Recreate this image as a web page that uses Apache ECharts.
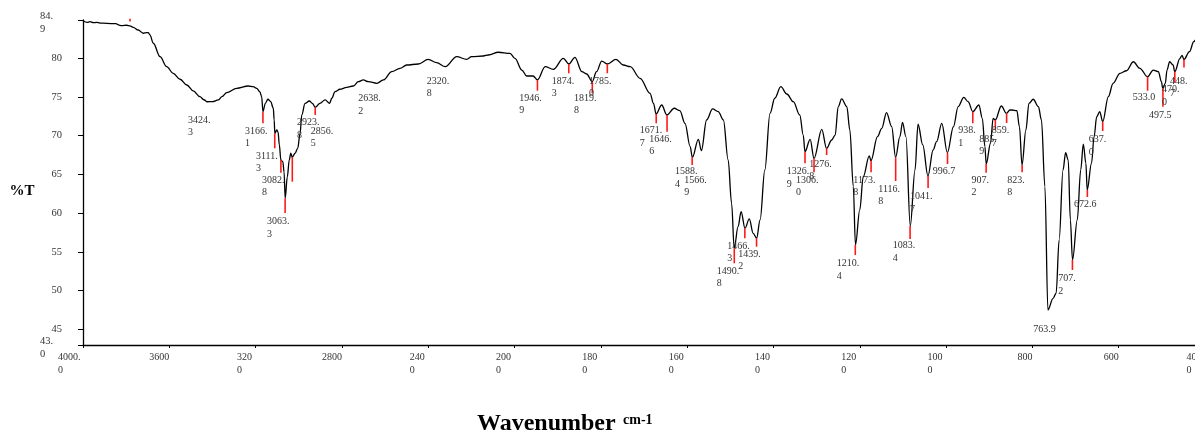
<!DOCTYPE html>
<html><head><meta charset="utf-8">
<script src="https://cdn.jsdelivr.net/npm/echarts@6/dist/echarts.min.js"></script>
<style>html,body{margin:0;padding:0;background:#fff}#c{width:1195px;height:435px}</style>
</head><body><div id="c"></div>
<script>
// ---- spectrum (wavenumber cm-1, %T) ----
const wavenumbers = [4000,3980,3968,3952,3937,3921,3890,3847,3836,3821,3797,3782,3767,3744,3721,3705,3697,3690,3674,3643,3612,3582,3550,3519,3489,3458,3440,3424,3400,3373,3356,3334,3288,3234,3211,3195,3180,3172,3166,3155,3143,3130,3118,3114,3111,3102,3096,3090,3083,3074,3068,3063,3053,3044,3037,3030,3017,3005,2994,2986,2971,2951,2937,2924,2902,2878,2857,2847,2832,2809,2778,2747,2724,2701,2678,2638,2608,2569,2531,2500,2446,2400,2361,2321,2268,2222,2199,2145,2121,2075,2021,1999,1983,1972,1957,1947,1929,1910,1887,1874,1860,1844,1833,1820,1810,1798,1785,1765,1748,1732,1709,1686,1678,1672,1659,1647,1630,1617,1605,1593,1588,1574,1567,1555,1541,1528,1516,1505,1497,1491,1482,1475,1466,1456,1447,1439,1431,1420,1408,1397,1383,1369,1354,1339,1331,1327,1315,1306,1288,1277,1265,1257,1250,1242,1230,1223,1215,1210,1200,1192,1178,1174,1159,1149,1138,1126,1117,1107,1101,1093,1083,1072,1065,1054,1042,1030,1022,1010,997,983,972,959,949,938,924,916,910,907,897,891,886,872,860,852,848,836,830,824,815,808,798,786,779,771,764,752,745,738,729,723,717,712,707,696,688,682,676,673,663,657,651,644,637,624,613,597,582,566,551,533,520,508,501,498,492,488,482,474,470,458,453,449,436,426,422,400];
const transmittance = [84.81,84.60,84.68,84.55,84.60,84.51,84.47,84.42,84.26,84.17,84.22,84.13,83.96,83.61,83.19,83.26,83.26,82.97,81.90,80.17,78.88,78.03,77.26,76.52,75.75,75.01,74.62,74.36,74.38,74.59,75.01,75.53,76.09,76.39,76.30,76.09,75.62,75.01,73.08,74.16,74.68,74.37,73.52,72.01,70.29,70.72,70.46,68.79,66.85,66.63,65.30,61.91,64.70,66.85,67.72,67.20,67.72,68.36,70.29,72.65,74.16,74.46,74.16,73.65,74.16,74.59,74.16,74.81,75.66,75.97,76.22,76.39,76.95,77.17,76.95,76.74,77.17,78.24,78.67,79.10,79.23,79.83,79.40,78.88,80.17,79.83,80.17,80.26,80.39,80.74,80.61,79.96,78.45,77.68,77.68,77.17,78.88,78.54,79.96,79.23,80.09,78.24,77.94,76.95,78.24,79.61,79.23,79.83,79.10,78.88,77.38,75.45,74.16,72.78,73.94,72.65,73.52,73.21,71.58,68.57,67.20,69.52,68.05,72.01,73.43,73.08,72.01,66.85,61.27,55.47,58.25,60.19,58.05,59.25,57.40,56.76,59.12,65.56,72.87,74.81,76.30,75.36,74.37,72.65,70.07,67.92,69.52,67.07,70.81,68.36,69.43,70.07,73.72,74.72,73.72,70.72,63.41,55.89,60.41,64.70,67.37,66.76,69.86,70.94,72.95,71.14,67.20,69.86,71.71,69.86,58.34,65.56,71.46,68.79,64.79,68.14,69.21,71.58,67.79,71.14,73.72,74.93,74.37,73.08,73.94,72.23,68.57,66.34,69.01,72.23,72.01,73.81,72.87,73.30,73.30,73.21,71.14,66.21,70.72,74.16,74.68,73.72,72.01,63.41,47.51,49.02,49.67,56.54,65.56,67.79,66.85,59.12,53.96,59.12,65.56,68.91,66.43,62.98,66.43,69.86,72.43,73.08,71.79,75.01,76.74,78.03,78.36,79.52,78.67,77.59,78.45,78.24,76.95,76.10,76.74,78.45,79.52,79.10,78.24,79.96,80.35,79.80,80.81,82.10,82.32,82.70];

// ---- axis ticks ----
const xTickValues = [4000,3600,3200,2800,2400,2000,1800,1600,1400,1200,1000,800,600,400];
const xTickLabels = ["4000.\n0","3600","320\n0","2800","240\n0","200\n0","180\n0","160\n0","140\n0","120\n0","100\n0","800","600","40\n0"];
const yTickValues = [43,45,50,55,60,65,70,75,80,84.9];
const yTickLabels = ["43.\n0","45","50","55","60","65","70","75","80","84.\n9"];
const yEndValues = [43,84.9];   // range ends, labelled on their own

// ---- picked peaks ----
const peakWavenumbers = [3782,3424.3,3166.1,3111.3,3082.8,3063.3,3030,2923.8,2856.5,2638.2,2320.8,1946.9,1874.3,1819.8,1785.0,1671.7,1646.6,1588.4,1566.9,1490.8,1466.3,1439.2,1326.9,1306.0,1276.8,1210.4,1173.8,1116.8,1083.4,1041.7,996.7,938.1,907.2,885.9,859.7,823.8,763.9,707.2,672.6,637.0,533.0,497.5,470.0,448.7];
const peakTransmittance = [85.05,74.36,73.08,70.29,66.85,61.91,67.20,73.65,74.16,76.74,78.88,77.17,79.23,76.95,79.23,72.78,72.65,67.20,68.05,55.47,58.05,56.76,67.92,67.07,68.36,55.89,66.76,67.20,58.34,64.79,67.79,73.08,66.34,72.01,72.87,66.21,47.51,53.96,62.98,71.79,77.59,76.10,78.24,79.80];
const peakLabels = ["","3424.\n3","3166.\n1","3111.\n3","3082.\n8","3063.\n3","","2923.\n8","2856.\n5","2638.\n2","2320.\n8","1946.\n9","1874.\n3","1819.\n8","1785.\n0","1671.\n7","1646.\n6","1588.\n4","1566.\n9","1490.\n8","1466.\n3","1439.\n2","1326.\n9","1306.\n0","1276.\n8","1210.\n4","1173.\n8","1116.\n8","1083.\n4","1041.\n7","996.7","938.\n1","907.\n2","885.\n9","859.\n7","823.\n8","763.9","707.\n2","672.6","637.\n0","533.0","497.5","470.\n0","448.\n7"];

// ---- marker layout (styling only): [red line length px, label dx px, label dy px] ----
const peakLayout = [[2.6,0,0],[0,-19.2,18.3],[11.6,-17.9,7.7],[15,-18.8,7.7],[12.7,-18.9,7.3],[14.7,-18.1,8.7],[24.4,0,0],[7.7,-18.2,7.7],[0,-19,27.7],[0,-18.5,15],[0,-18.6,14.3],[10.7,-18.2,7.3],[9.3,-17.1,7.7],[11.6,-18.3,4.7],[9.3,-18.3,7.7],[9.3,-16.5,7.4],[16.7,-17.8,7.3],[7.7,-17.2,6.7],[0,-17.2,29.3],[15,-17.6,7.7],[10,-17.6,7.7],[8.4,-18.3,7.3],[11.6,-18.3,8.4],[14,-18,7.7],[6.7,-17.3,9],[10,-18.6,8.3],[11.6,-17.8,7.7],[23.7,-17.4,8],[13,-17.4,6.7],[12,-18.1,8.7],[11.3,-14.8,7.7],[11.6,-14.5,7.4],[8.7,-14.5,7.3],[10,-16.1,9],[9.7,-14.9,7.7],[7.3,-14.9,7.7],[0,-14.7,19],[10,-14.2,8.3],[7,-13.4,7.3],[9.3,-14.1,8.3],[14,-14.9,7],[18.4,-14,8.3],[11,-12.7,6.6],[8,-14,13.4]];

// split-scale axis: 4000-2000 at 400 cm-1 per division, 2000-400 at 200 cm-1 per division
function toAxis(w){ return w >= 2000 ? (4000 - w) / 400 : 5 + (2000 - w) / 200; }

const SERIF = '"Liberation Serif","Times New Roman",serif';
const TXT = '#333';
const chart = echarts.init(document.getElementById('c'), null, {renderer:'canvas'});

const lineData = wavenumbers.map((w,i)=>[toAxis(w), transmittance[i]]);
const peakData = peakWavenumbers.map((w,i)=>[toAxis(w), peakTransmittance[i], i]);

function wrapRich(s, style){
  if (s.indexOf('\n') < 0) return s;
  return s.split('\n').map(p=>'{'+style+'|'+p+'}').join('\n');
}
function yLabel(v){
  let k = 0;
  for (let j=0;j<yTickValues.length;j++){ if (Math.abs(yTickValues[j]-v) < 1e-6) k = j; }
  return wrapRich(yTickLabels[k], 'w');
}
const yRich = { w:{width:22, align:'left', fontFamily:SERIF, fontSize:10.5, lineHeight:12.7, color:TXT} };
const yInner = yTickValues.filter(v => yEndValues.indexOf(v) < 0);

chart.setOption({
  animation:false,
  grid:{left:83, right:-10, top:20, bottom:90, containLabel:false, outerBoundsMode:'none'},
  xAxis:{
    type:'value', min:0, max:13, interval:1,
    axisLine:{show:true, lineStyle:{color:'#000', width:1.3}},
    axisTick:{show:true, length:3, lineStyle:{color:'#000'}},
    splitLine:{show:false},
    axisLabel:{
      margin:6, align:'right', verticalAlign:'top', showMinLabel:true, showMaxLabel:true, hideOverlap:false,
      fontFamily:SERIF, fontSize:10, lineHeight:13, color:TXT,
      formatter:function(v){
        const i = Math.round(v);
        const s = xTickLabels[i] || '';
        return wrapRich(s, i===0 ? 'w' : 'm');
      },
      rich:{
        m:{width:18.5, align:'left', fontFamily:SERIF, fontSize:10, lineHeight:13, color:TXT},
        w:{width:25, align:'left', fontFamily:SERIF, fontSize:10, lineHeight:13, color:TXT}
      }
    }
  },
  yAxis:[{
    type:'value', min:43, max:84.9, position:'left',
    axisLine:{show:true, lineStyle:{color:'#000', width:1.3}},
    axisTick:{show:true, length:5, customValues:yTickValues, lineStyle:{color:'#000'}},
    splitLine:{show:false},
    axisLabel:{
      customValues:yInner, hideOverlap:false,
      margin:21, align:'right',
      fontFamily:SERIF, fontSize:10.5, lineHeight:12.7, color:TXT,
      formatter:yLabel, rich:yRich
    }
  },{
    type:'value', min:43, max:84.9, position:'left', offset:0,
    axisLine:{show:false}, axisTick:{show:false}, splitLine:{show:false},
    axisLabel:{
      customValues:yEndValues, showMinLabel:true, showMaxLabel:true, hideOverlap:false,
      margin:21, align:'right', padding:[6,0,0,0],
      fontFamily:SERIF, fontSize:10.5, lineHeight:12.7, color:TXT,
      formatter:yLabel, rich:yRich
    }
  }],
  series:[
    {
      type:'line', data:lineData, showSymbol:false, symbol:'none',
      smooth:0.35, smoothMonotone:'x',
      lineStyle:{color:'#000', width:1.3}, z:3
    },
    {
      type:'custom', data:peakData, z:4, clip:false,
      renderItem:function(params, api){
        const idx = api.value(2);
        const p = api.coord([api.value(0), api.value(1)]);
        const lay = peakLayout[idx];
        const children = [];
        if (lay[0] > 0){
          children.push({type:'line', shape:{x1:p[0], y1:p[1], x2:p[0], y2:p[1]+lay[0]},
            style:{stroke:'#ff1a1a', lineWidth:1.6}});
        }
        const label = peakLabels[idx];
        if (label){
          children.push({type:'text', x:p[0]+lay[1], y:p[1]+lay[0]+lay[2]-6.35,
            style:{text:label, fill:TXT, fontFamily:SERIF, fontSize:10, lineHeight:12.7,
              align:'left', verticalAlign:'top'}});
        }
        return {type:'group', children:children};
      }
    }
  ],
  graphic:[
    {type:'text', x:22, y:191, style:{text:'%T', fill:'#000', font:'bold 15px '+SERIF, align:'center', verticalAlign:'middle'}},
    {type:'text', x:477, y:424, style:{text:'Wavenumber', fill:'#000', font:'bold 24px '+SERIF, align:'left', verticalAlign:'middle'}},
    {type:'text', x:623, y:420, style:{text:'cm-1', fill:'#000', font:'bold 14px '+SERIF, align:'left', verticalAlign:'middle'}}
  ]
});
</script>
</body></html>
